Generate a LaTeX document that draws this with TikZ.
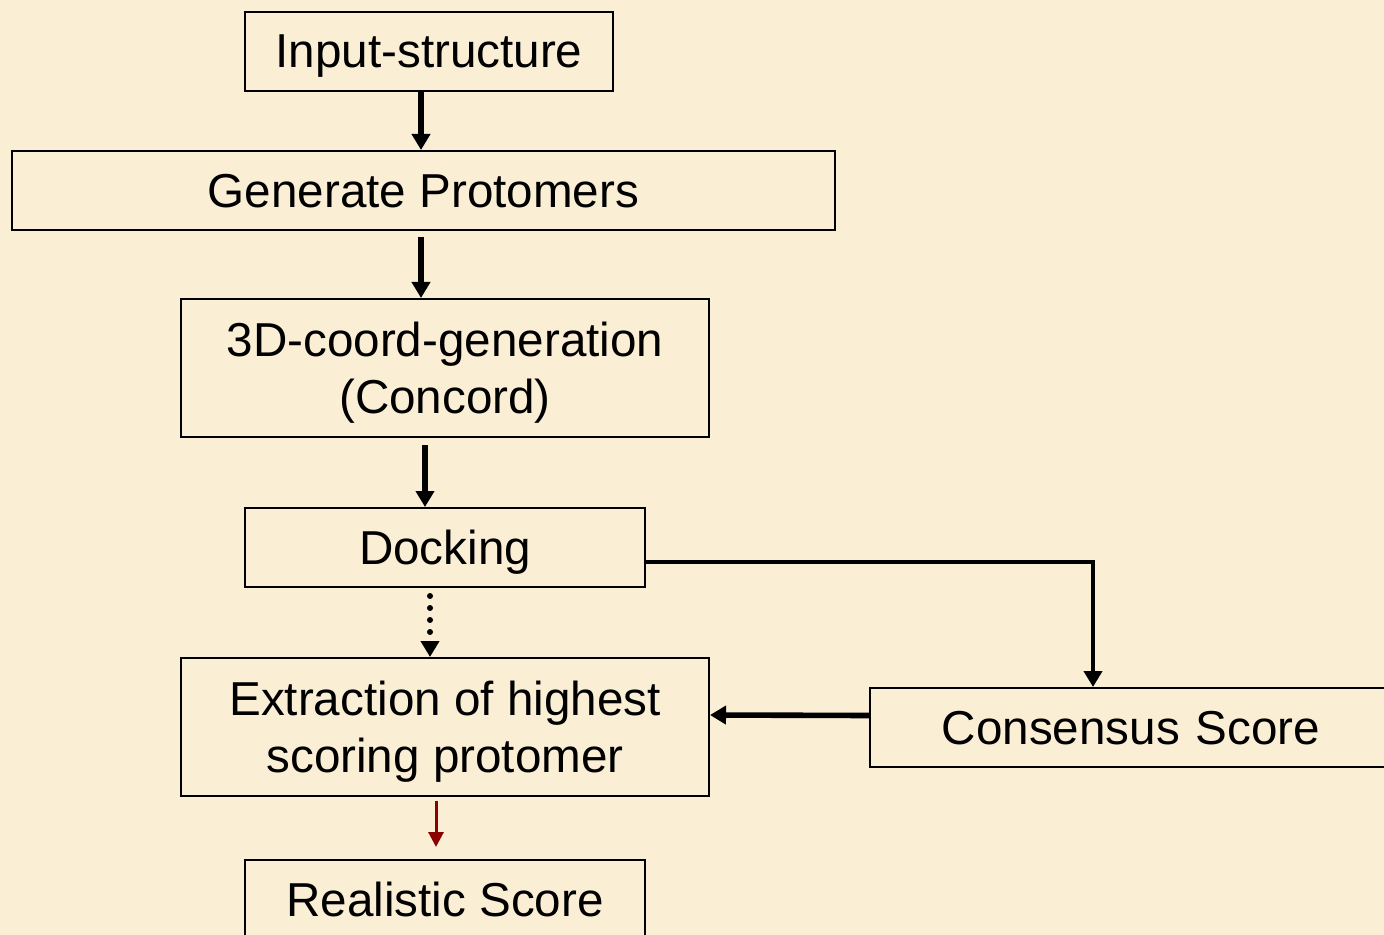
\documentclass[tikz,border=0pt]{standalone}
\usepackage{fontspec}
\setmainfont{Liberation Sans}
\usepackage{tikz}
\usetikzlibrary{arrows.meta,positioning}
\definecolor{parchment}{HTML}{FAEED5}
\definecolor{darkred}{HTML}{8B0000}

\begin{document}
\begin{tikzpicture}[x=0.5pt, y=-0.5pt,
    box/.style={rectangle, draw=black, line width=1pt, inner sep=0pt,
                minimum height=39.5pt, align=center, text depth=0pt,
                font=\fontsize{23.8}{28.5}\selectfont},
    arr/.style={-{Triangle[length=8pt,width=9pt]}, line width=2.8pt},
    dotarr/.style={-{Triangle[length=8pt,width=9pt]}, line width=3pt,
                   dash pattern=on 0pt off 6pt, line cap=round},
    redarr/.style={-{Triangle[length=7.5pt,width=7.5pt]}, line width=1.5pt, draw=darkred}
  ]
  \fill[parchment] (0,0) rectangle (1384,935);
  \clip (0,0) rectangle (1384,935);

  \node[box, minimum width=184pt] (inp) at (429,51.5) {Input-structure};
  \node[box, minimum width=411.5pt] (gen) at (423.5,190.5) {Generate Protomers};
  \node[box, minimum width=264pt, minimum height=69pt] (crd) at (445,368) {3D-coord-generation\\(Concord)};
  \node[box, minimum width=200pt] (dock) at (445,547.5) {Docking};
  \node[box, minimum width=264pt, minimum height=69pt] (extr) at (445,727) {Extraction of highest\\scoring protomer};
  \node[box, minimum width=265pt, anchor=west, text width=265pt] (cons) at (869,727.5) {\hspace*{-4pt}Consensus Score\hspace*{4pt}};
  \node[box, minimum width=200pt] (real) at (445,899.5) {Realistic Score};

  \draw[arr] ([xshift=-4pt]inp.south) -- ([xshift=-1.25pt]gen.north);
  \draw[arr] ([xshift=-1.25pt,yshift=-3pt]gen.south) -- ([xshift=-12pt]crd.north);
  \draw[arr] ([xshift=-10pt,yshift=-3.5pt]crd.south) -- ([xshift=-10pt]dock.north);
  \draw[dotarr] ([xshift=-7.5pt,yshift=-4pt]dock.south) -- ([xshift=-7.5pt]extr.north);
  \draw[arr, line width=2pt] ([yshift=-7pt]dock.east) -| ([xshift=112pt]cons.north west);
  \draw[arr] ([yshift=6pt]cons.west) -- ([yshift=6pt]extr.east);
  \draw[redarr] ([xshift=-4.5pt,yshift=-2pt]extr.south) -- ([xshift=-4.5pt,yshift=6pt]real.north);
\end{tikzpicture}
\end{document}
